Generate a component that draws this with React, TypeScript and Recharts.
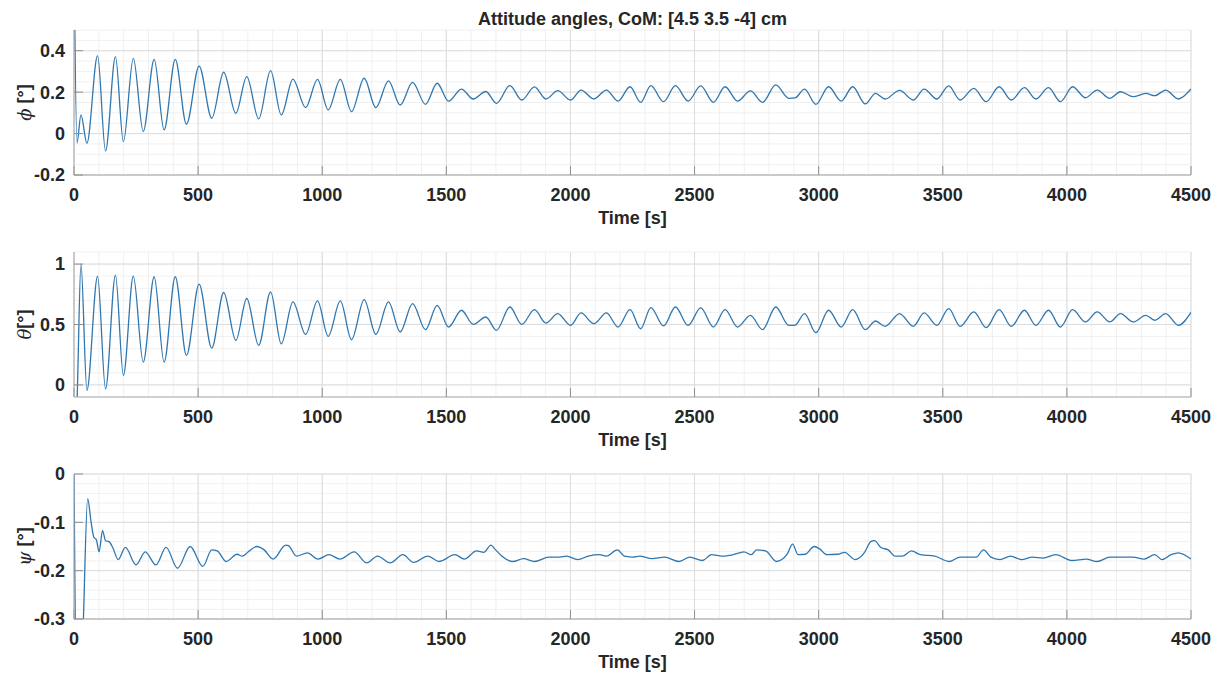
import * as React from "react";
import { LineChart, Line, XAxis, YAxis, CartesianGrid } from "recharts";

// Roll / pitch share the same oscillation: sample times at each extremum (s)
const OSC_TIME = [
  0, 12, 28, 52, 95, 127, 167, 199, 239, 279, 323, 363, 408, 453, 504, 555,
  603, 652, 696, 744, 792, 835, 882, 933, 981, 1024, 1073, 1118, 1169, 1216,
  1267, 1314, 1364, 1416, 1463, 1509, 1561, 1608, 1659, 1702, 1756, 1804,
  1855, 1901, 1949, 2000, 2043, 2094, 2145, 2192, 2240, 2283, 2324, 2375,
  2423, 2474, 2525, 2576, 2623, 2673, 2725, 2774, 2827, 2880, 2905, 2943,
  2989, 3040, 3091, 3137, 3188, 3229, 3268, 3326, 3381, 3425, 3476, 3524,
  3570, 3625, 3675, 3727, 3776, 3829, 3875, 3926, 3974, 4023, 4075, 4122,
  4173, 4216, 4267, 4318, 4354, 4398, 4449, 4500,
];

const PHI_DEG = [
  0.9, -0.045, 0.09, -0.047, 0.376, -0.084, 0.371, -0.039, 0.363, 0.01, 0.358,
  0.018, 0.358, 0.045, 0.326, 0.074, 0.296, 0.098, 0.275, 0.071, 0.304, 0.09,
  0.263, 0.125, 0.262, 0.114, 0.262, 0.106, 0.267, 0.125, 0.254, 0.138, 0.247,
  0.141, 0.243, 0.157, 0.215, 0.167, 0.203, 0.146, 0.231, 0.162, 0.225, 0.167,
  0.207, 0.162, 0.21, 0.167, 0.21, 0.157, 0.226, 0.151, 0.231, 0.154, 0.231,
  0.157, 0.23, 0.151, 0.226, 0.157, 0.206, 0.151, 0.235, 0.17, 0.172, 0.215,
  0.141, 0.226, 0.157, 0.226, 0.143, 0.194, 0.167, 0.209, 0.162, 0.215, 0.167,
  0.23, 0.162, 0.218, 0.154, 0.226, 0.162, 0.222, 0.167, 0.222, 0.154, 0.226,
  0.173, 0.21, 0.17, 0.202, 0.178, 0.194, 0.183, 0.21, 0.167, 0.215,
];

const THETA_DEG = [
  -0.6, -0.15, 1.0, -0.045, 0.9, -0.033, 0.909, 0.078, 0.9, 0.188, 0.895,
  0.188, 0.895, 0.244, 0.834, 0.305, 0.765, 0.368, 0.715, 0.327, 0.77, 0.34,
  0.687, 0.418, 0.695, 0.402, 0.695, 0.374, 0.706, 0.418, 0.687, 0.438, 0.673,
  0.457, 0.659, 0.479, 0.618, 0.501, 0.562, 0.452, 0.645, 0.501, 0.623, 0.512,
  0.59, 0.493, 0.596, 0.507, 0.596, 0.479, 0.623, 0.465, 0.64, 0.488, 0.645,
  0.493, 0.637, 0.479, 0.623, 0.479, 0.576, 0.457, 0.645, 0.493, 0.495, 0.59,
  0.432, 0.618, 0.479, 0.623, 0.457, 0.529, 0.485, 0.59, 0.485, 0.596, 0.493,
  0.632, 0.485, 0.604, 0.474, 0.623, 0.485, 0.618, 0.493, 0.618, 0.479, 0.623,
  0.521, 0.604, 0.521, 0.59, 0.521, 0.576, 0.535, 0.59, 0.493, 0.6,
];

// Yaw drifts more irregularly, so it gets its own sample times
const PSI_TIME = [
  0, 13, 26, 38, 55, 69, 80, 90, 101, 115, 127, 141, 156, 178, 207, 250, 287,
  330, 371, 417, 468, 519, 555, 577, 613, 657, 678, 700, 737, 766, 802, 853,
  864, 896, 940, 983, 1027, 1071, 1129, 1179, 1223, 1274, 1325, 1368, 1426,
  1470, 1535, 1572, 1622, 1651, 1680, 1695, 1724, 1768, 1811, 1855, 1913,
  1956, 1985, 2029, 2072, 2116, 2145, 2189, 2218, 2254, 2278, 2329, 2379,
  2438, 2481, 2532, 2568, 2612, 2655, 2699, 2728, 2750, 2786, 2830, 2873,
  2895, 2917, 2946, 2982, 3004, 3033, 3076, 3105, 3146, 3185, 3210, 3225,
  3251, 3280, 3309, 3338, 3374, 3410, 3468, 3527, 3570, 3635, 3664, 3694,
  3730, 3773, 3817, 3861, 3904, 3955, 4020, 4078, 4122, 4173, 4224, 4267,
  4311, 4354, 4383, 4420, 4449, 4500,
];

const PSI_DEG = [
  0.0, -0.55, -0.5, -0.3, -0.051, -0.1, -0.131, -0.136, -0.161, -0.117, -0.138,
  -0.14, -0.152, -0.177, -0.152, -0.188, -0.161, -0.188, -0.152, -0.195, -0.15,
  -0.191, -0.157, -0.159, -0.181, -0.166, -0.17, -0.162, -0.15, -0.157, -0.176,
  -0.147, -0.148, -0.17, -0.163, -0.176, -0.167, -0.176, -0.161, -0.184, -0.17,
  -0.184, -0.167, -0.183, -0.17, -0.181, -0.167, -0.176, -0.159, -0.162, -0.147,
  -0.155, -0.17, -0.181, -0.175, -0.181, -0.172, -0.172, -0.17, -0.177, -0.17,
  -0.167, -0.17, -0.157, -0.17, -0.172, -0.17, -0.175, -0.172, -0.181, -0.172,
  -0.179, -0.167, -0.17, -0.167, -0.161, -0.167, -0.157, -0.159, -0.181, -0.166,
  -0.145, -0.167, -0.166, -0.15, -0.155, -0.167, -0.166, -0.162, -0.177, -0.162,
  -0.14, -0.138, -0.152, -0.157, -0.17, -0.17, -0.159, -0.167, -0.17, -0.181,
  -0.172, -0.172, -0.157, -0.172, -0.177, -0.17, -0.177, -0.172, -0.174, -0.167,
  -0.179, -0.176, -0.181, -0.172, -0.172, -0.172, -0.176, -0.167, -0.177,
  -0.167, -0.163, -0.176,
];

const TIME_TICKS = [0, 500, 1000, 1500, 2000, 2500, 3000, 3500, 4000, 4500];
const PHI_TICKS = [-0.2, 0, 0.2, 0.4];
const THETA_TICKS = [0, 0.5, 1];
const PSI_TICKS = [-0.3, -0.2, -0.1, 0];

// grid subdivisions
function steps(from: number, to: number, step: number) {
  const out: number[] = [];
  const n = Math.round((to - from) / step);
  for (let i = 0; i <= n; i++) out.push(Math.round((from + i * step) * 1000) / 1000);
  return out;
}
const TIME_MINOR = steps(0, 4500, 100);

const W = 1225;
const H = 232;
const PANEL_STEP = 222;
const FONT = "'Liberation Sans', Arial, Helvetica, sans-serif";
const INK = "#262626";
const FRAME = "#a9a9a9";
const TICK = "#8f8f8f";
const LINE = "#2f77b0";

const tickStyle = { fill: INK, fontSize: 18, fontWeight: 700, fontFamily: FONT };

function TimeTitle(props: any) {
  const vb = props.viewBox || { x: 0, y: 0, width: 0 };
  return (
    <text
      x={vb.x + vb.width / 2}
      y={vb.y + 49}
      textAnchor="middle"
      fill={INK}
      fontSize={18}
      fontWeight={700}
      fontFamily={FONT}
    >
      Time [s]
    </text>
  );
}

function angleTitle(symbol: string, unit: string) {
  return (props: any) => {
    const vb = props.viewBox || { x: 0, y: 0, height: 0 };
    const cx = vb.x + 24;
    const cy = vb.y + vb.height / 2;
    return (
      <text
        x={cx}
        y={cy}
        transform={`rotate(-90 ${cx} ${cy})`}
        textAnchor="middle"
        dominantBaseline="central"
        fill={INK}
        fontSize={18}
        fontWeight={700}
        fontFamily={FONT}
      >
        <tspan fontFamily="'DejaVu Serif', serif" fontStyle="italic" fontWeight={400}>
          {symbol}
        </tspan>
        <tspan>{unit}</tspan>
      </text>
    );
  };
}

interface PanelProps {
  time: number[];
  values: number[];
  domain: [number, number];
  ticks: number[];
  minorStep: number;
  symbol: string;
  unit: string;
  top: number;
}

function Panel({ time, values, domain, ticks, minorStep, symbol, unit, top }: PanelProps) {
  const data = time.map((t, i) => ({ t, v: values[i] }));
  const minor = steps(domain[0], domain[1], minorStep);
  return (
    <div style={{ position: "absolute", left: 0, top, width: W, height: H }}>
      <LineChart width={W} height={H} data={data} margin={{ top: 30, right: 34, bottom: 10, left: 0 }}>
        <CartesianGrid verticalValues={TIME_MINOR} horizontalValues={minor} stroke="#f0f0f0" />
        <CartesianGrid verticalValues={TIME_TICKS} horizontalValues={ticks} stroke="#dcdcdc" />
        <XAxis
          dataKey="t"
          type="number"
          domain={[0, 4500]}
          ticks={TIME_TICKS}
          interval={0}
          allowDataOverflow
          height={47}
          tickSize={-9}
          tickMargin={22}
          tick={tickStyle}
          axisLine={{ stroke: FRAME }}
          tickLine={{ stroke: TICK }}
          label={TimeTitle}
        />
        <XAxis
          xAxisId="top"
          orientation="top"
          type="number"
          domain={[0, 4500]}
          ticks={TIME_TICKS}
          interval={0}
          allowDataOverflow
          height={0}
          tickSize={-9}
          tick={false}
          axisLine={{ stroke: FRAME }}
          tickLine={{ stroke: TICK }}
        />
        <YAxis
          type="number"
          domain={domain}
          ticks={ticks}
          interval={0}
          allowDataOverflow
          width={74}
          tickSize={-9}
          tickMargin={18}
          tick={tickStyle}
          axisLine={{ stroke: FRAME }}
          tickLine={{ stroke: TICK }}
          label={angleTitle(symbol, unit)}
        />
        <YAxis
          yAxisId="right"
          orientation="right"
          type="number"
          domain={domain}
          ticks={ticks}
          interval={0}
          allowDataOverflow
          width={0}
          tickSize={-9}
          tick={false}
          axisLine={{ stroke: FRAME }}
          tickLine={{ stroke: TICK }}
        />
        <Line
          dataKey="v"
          type="monotone"
          stroke={LINE}
          strokeWidth={1.3}
          dot={false}
          activeDot={false}
          isAnimationActive={false}
        />
      </LineChart>
    </div>
  );
}

export default function App() {
  return (
    <div
      style={{
        position: "absolute",
        left: 0,
        top: 0,
        width: W,
        height: 675,
        overflow: "hidden",
        background: "#fff",
      }}
    >
      <svg width={W} height={30} style={{ position: "absolute", left: 0, top: 0 }}>
        <text
          x={632.5}
          y={25}
          textAnchor="middle"
          fill={INK}
          fontSize={18}
          fontWeight={700}
          fontFamily={FONT}
        >
          Attitude angles, CoM: [4.5 3.5 -4] cm
        </text>
      </svg>
      <Panel
        time={OSC_TIME}
        values={PHI_DEG}
        domain={[-0.2, 0.5]}
        ticks={PHI_TICKS}
        minorStep={0.05}
        symbol="ϕ"
        unit=" [°]"
        top={0}
      />
      <Panel
        time={OSC_TIME}
        values={THETA_DEG}
        domain={[-0.1, 1.1]}
        ticks={THETA_TICKS}
        minorStep={0.1}
        symbol="θ"
        unit="[°]"
        top={PANEL_STEP}
      />
      <Panel
        time={PSI_TIME}
        values={PSI_DEG}
        domain={[-0.3, 0]}
        ticks={PSI_TICKS}
        minorStep={0.02}
        symbol="ψ"
        unit=" [°]"
        top={PANEL_STEP * 2}
      />
    </div>
  );
}
